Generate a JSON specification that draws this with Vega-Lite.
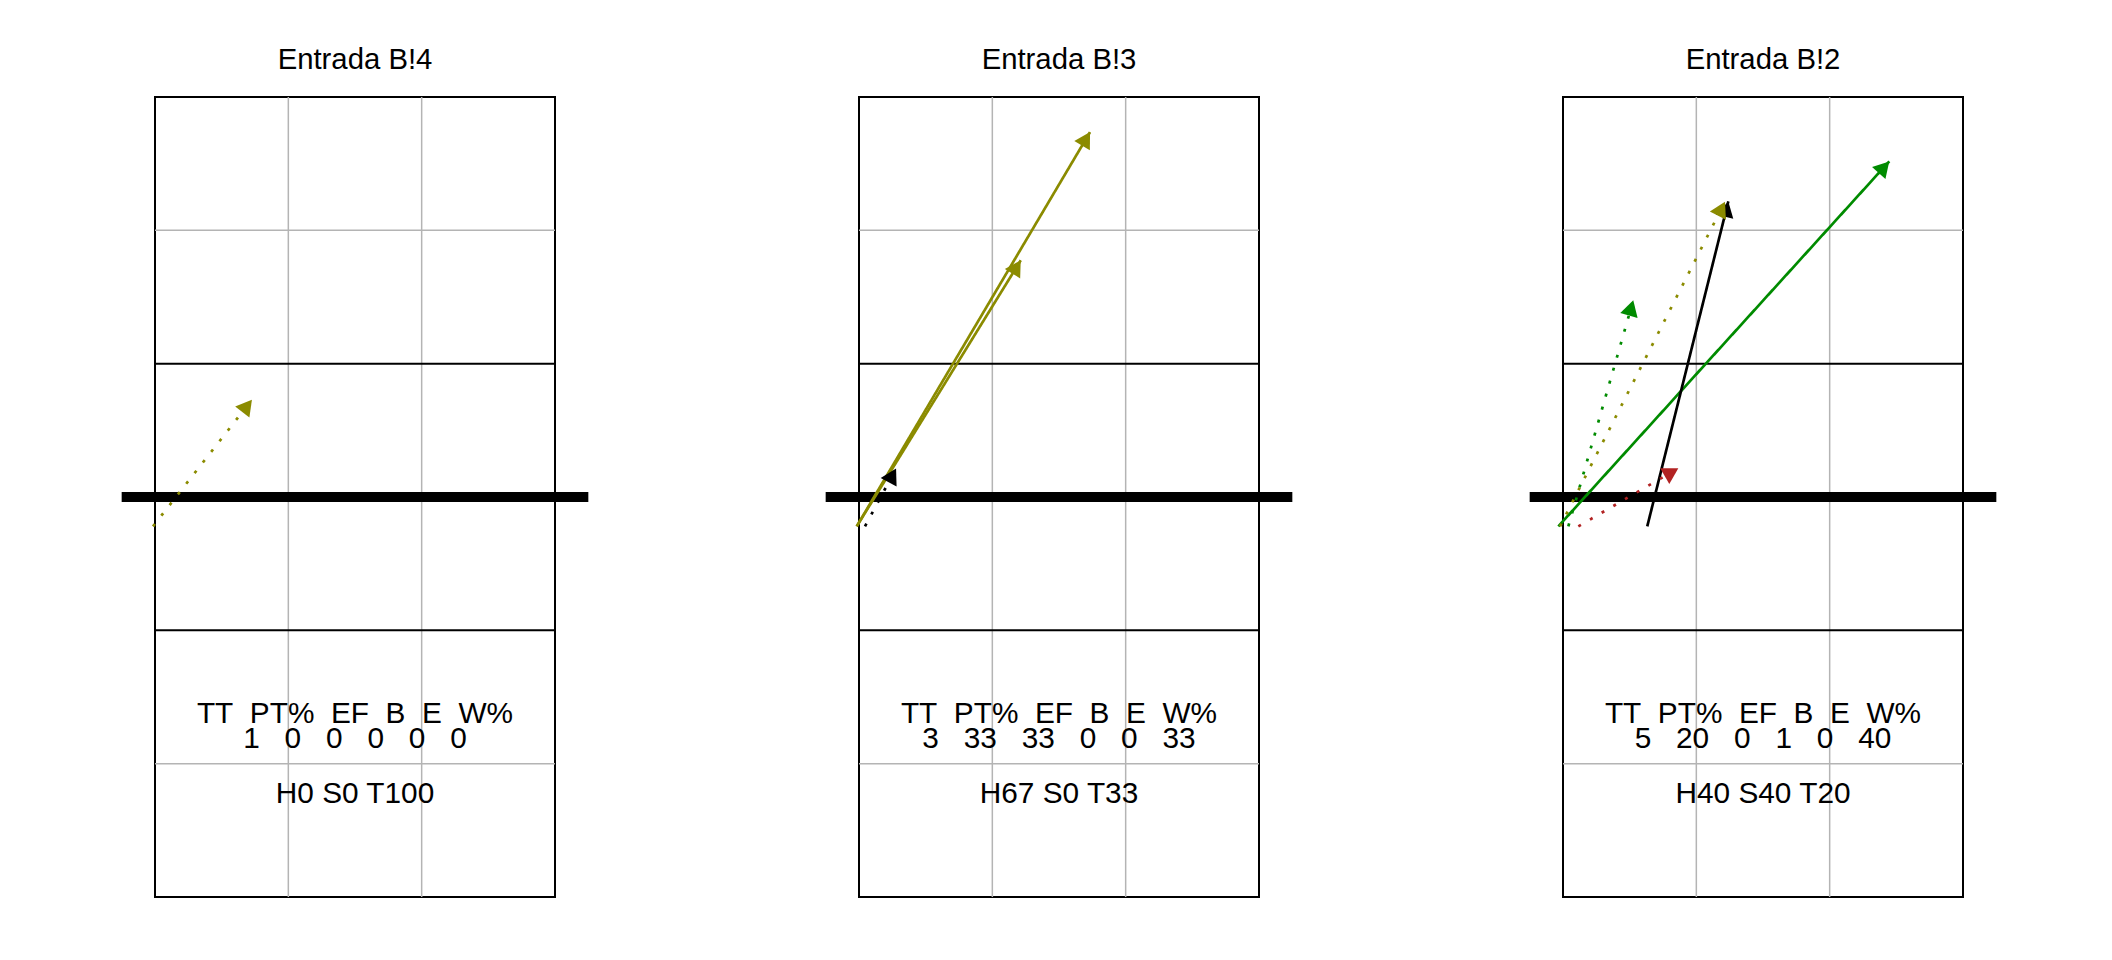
{
  "$schema": "https://vega.github.io/schema/vega-lite/v6.json",
  "background": "white",
  "padding": {"left": 115, "top": 45, "right": 0, "bottom": 0},
  "config": {
    "view": {"stroke": "black", "strokeWidth": 2},
    "font": "Liberation Sans"
  },
  "data": {
    "values": [
      {"tipo": "resumen", "panel": "Entrada B!4", "TT": 1, "PT": 0, "EF": 0, "B": 0, "E": 0, "W": 0, "H": 0, "S": 0, "T": 100},
      {"tipo": "resumen", "panel": "Entrada B!3", "TT": 3, "PT": 33, "EF": 33, "B": 0, "E": 0, "W": 33, "H": 67, "S": 0, "T": 33},
      {"tipo": "resumen", "panel": "Entrada B!2", "TT": 5, "PT": 20, "EF": 0, "B": 1, "E": 0, "W": 40, "H": 40, "S": 40, "T": 20},
      {"tipo": "flecha", "panel": "Entrada B!4", "x": -0.015, "y": 2.78, "x2": 0.727, "y2": 3.73, "resultado": "positivo", "linea": "punteada"},
      {"tipo": "flecha", "panel": "Entrada B!3", "x": -0.017, "y": 2.78, "x2": 1.733, "y2": 5.737, "resultado": "positivo", "linea": "continua"},
      {"tipo": "flecha", "panel": "Entrada B!3", "x": -0.017, "y": 2.78, "x2": 1.213, "y2": 4.775, "resultado": "positivo", "linea": "continua"},
      {"tipo": "flecha", "panel": "Entrada B!3", "x": 0.045, "y": 2.78, "x2": 0.278, "y2": 3.214, "resultado": "neutro", "linea": "punteada"},
      {"tipo": "flecha", "panel": "Entrada B!2", "x": -0.035, "y": 2.78, "x2": 2.447, "y2": 5.517, "resultado": "punto", "linea": "continua"},
      {"tipo": "flecha", "panel": "Entrada B!2", "x": 0.632, "y": 2.78, "x2": 1.24, "y2": 5.217, "resultado": "neutro", "linea": "continua"},
      {"tipo": "flecha", "panel": "Entrada B!2", "x": -0.022, "y": 2.78, "x2": 1.215, "y2": 5.215, "resultado": "positivo", "linea": "punteada"},
      {"tipo": "flecha", "panel": "Entrada B!2", "x": 0.04, "y": 2.78, "x2": 0.527, "y2": 4.475, "resultado": "punto", "linea": "punteada"},
      {"tipo": "flecha", "panel": "Entrada B!2", "x": 0.115, "y": 2.78, "x2": 0.865, "y2": 3.216, "resultado": "error", "linea": "punteada"}
    ]
  },
  "facet": {
    "column": {
      "field": "panel",
      "type": "nominal",
      "sort": ["Entrada B!4", "Entrada B!3", "Entrada B!2"],
      "title": null,
      "header": {"labelFontSize": 29.3, "labelFont": "Liberation Sans", "labelColor": "black", "labelPadding": 20}
    }
  },
  "spacing": 224,
  "spec": {
    "width": 400,
    "height": 800,
    "layer": [
      {
        "transform": [{"filter": "datum.tipo == 'resumen'"}],
        "mark": {"type": "rule", "color": "#B4B4B4", "strokeWidth": 1.5},
        "encoding": {"x": {"datum": 1, "type": "quantitative", "scale": {"domain": [0, 3], "nice": false, "zero": false}, "axis": null}}
      },
      {
        "transform": [{"filter": "datum.tipo == 'resumen'"}],
        "mark": {"type": "rule", "color": "#B4B4B4", "strokeWidth": 1.5},
        "encoding": {"x": {"datum": 2, "type": "quantitative", "scale": {"domain": [0, 3], "nice": false, "zero": false}, "axis": null}}
      },
      {
        "transform": [{"filter": "datum.tipo == 'resumen'"}],
        "mark": {"type": "rule", "color": "#B4B4B4", "strokeWidth": 1.5},
        "encoding": {"y": {"datum": 1, "type": "quantitative", "scale": {"domain": [0, 6], "nice": false, "zero": false}, "axis": null}}
      },
      {
        "transform": [{"filter": "datum.tipo == 'resumen'"}],
        "mark": {"type": "rule", "color": "#B4B4B4", "strokeWidth": 1.5},
        "encoding": {"y": {"datum": 5, "type": "quantitative", "scale": {"domain": [0, 6], "nice": false, "zero": false}, "axis": null}}
      },
      {
        "transform": [{"filter": "datum.tipo == 'resumen'"}],
        "mark": {"type": "rule", "color": "black", "strokeWidth": 2},
        "encoding": {"y": {"datum": 2, "type": "quantitative", "scale": {"domain": [0, 6], "nice": false, "zero": false}, "axis": null}}
      },
      {
        "transform": [{"filter": "datum.tipo == 'resumen'"}],
        "mark": {"type": "rule", "color": "black", "strokeWidth": 2},
        "encoding": {"y": {"datum": 4, "type": "quantitative", "scale": {"domain": [0, 6], "nice": false, "zero": false}, "axis": null}}
      },
      {
        "transform": [{"filter": "datum.tipo == 'resumen'"}],
        "mark": {"type": "rule", "color": "black", "strokeWidth": 10, "strokeCap": "butt"},
        "encoding": {
          "x": {"datum": -0.25, "type": "quantitative", "scale": {"domain": [0, 3], "nice": false, "zero": false}, "axis": null},
          "x2": {"datum": 3.25},
          "y": {"datum": 3, "type": "quantitative", "scale": {"domain": [0, 6], "nice": false, "zero": false}, "axis": null}
        }
      },
      {
        "transform": [{"filter": "datum.tipo == 'flecha'"}],
        "mark": {"type": "rule", "strokeWidth": 2.7, "strokeCap": "butt"},
        "encoding": {
          "x": {"field": "x", "type": "quantitative", "scale": {"domain": [0, 3], "nice": false, "zero": false}, "axis": null},
          "y": {"field": "y", "type": "quantitative", "scale": {"domain": [0, 6], "nice": false, "zero": false}, "axis": null},
          "x2": {"field": "x2"},
          "y2": {"field": "y2"},
          "color": {"field": "resultado", "type": "nominal", "scale": {"domain": ["punto", "positivo", "neutro", "error"], "range": ["#008B00", "#8B8B00", "#000000", "#B22222"]}, "legend": null},
          "strokeDash": {"field": "linea", "type": "nominal", "scale": {"domain": ["continua", "punteada"], "range": [[1, 0], [3, 10.5]]}, "legend": null}
        }
      },
      {
        "transform": [
          {"filter": "datum.tipo == 'flecha'"},
          {"calculate": "atan2(datum.x2 - datum.x, datum.y2 - datum.y) * 180 / PI", "as": "angulo"}
        ],
        "mark": {"type": "point", "filled": true, "opacity": 1, "strokeWidth": 0, "size": 1300, "shape": "M0,0L0.5,0.87L-0.5,0.87Z"},
        "encoding": {
          "x": {"field": "x2", "type": "quantitative", "scale": {"domain": [0, 3], "nice": false, "zero": false}, "axis": null},
          "y": {"field": "y2", "type": "quantitative", "scale": {"domain": [0, 6], "nice": false, "zero": false}, "axis": null},
          "angle": {"field": "angulo", "type": "quantitative", "scale": null},
          "color": {"field": "resultado", "type": "nominal", "scale": {"domain": ["punto", "positivo", "neutro", "error"], "range": ["#008B00", "#8B8B00", "#000000", "#B22222"]}, "legend": null}
        }
      },
      {
        "transform": [{"filter": "datum.tipo == 'resumen'"}],
        "mark": {"type": "text", "fontSize": 29.8, "font": "Liberation Sans", "color": "black", "align": "center", "baseline": "alphabetic"},
        "encoding": {
          "x": {"datum": 1.5, "type": "quantitative", "scale": {"domain": [0, 3], "nice": false, "zero": false}, "axis": null},
          "y": {"datum": 1.303, "type": "quantitative", "scale": {"domain": [0, 6], "nice": false, "zero": false}, "axis": null},
          "text": {"value": "TT\u00a0\u00a0PT%\u00a0\u00a0EF\u00a0\u00a0B\u00a0\u00a0E\u00a0\u00a0W%"}
        }
      },
      {
        "transform": [
          {"filter": "datum.tipo == 'resumen'"},
          {"calculate": "datum.TT + '\u00a0\u00a0\u00a0' + datum.PT + '\u00a0\u00a0\u00a0' + datum.EF + '\u00a0\u00a0\u00a0' + datum.B + '\u00a0\u00a0\u00a0' + datum.E + '\u00a0\u00a0\u00a0' + datum.W", "as": "valores"}
        ],
        "mark": {"type": "text", "fontSize": 29.8, "font": "Liberation Sans", "color": "black", "align": "center", "baseline": "alphabetic"},
        "encoding": {
          "x": {"datum": 1.5, "type": "quantitative", "scale": {"domain": [0, 3], "nice": false, "zero": false}, "axis": null},
          "y": {"datum": 1.115, "type": "quantitative", "scale": {"domain": [0, 6], "nice": false, "zero": false}, "axis": null},
          "text": {"field": "valores"}
        }
      },
      {
        "transform": [
          {"filter": "datum.tipo == 'resumen'"},
          {"calculate": "'H' + datum.H + ' S' + datum.S + ' T' + datum.T", "as": "hst"}
        ],
        "mark": {"type": "text", "fontSize": 29.8, "font": "Liberation Sans", "color": "black", "align": "center", "baseline": "alphabetic"},
        "encoding": {
          "x": {"datum": 1.5, "type": "quantitative", "scale": {"domain": [0, 3], "nice": false, "zero": false}, "axis": null},
          "y": {"datum": 0.708, "type": "quantitative", "scale": {"domain": [0, 6], "nice": false, "zero": false}, "axis": null},
          "text": {"field": "hst"}
        }
      }
    ]
  }
}
